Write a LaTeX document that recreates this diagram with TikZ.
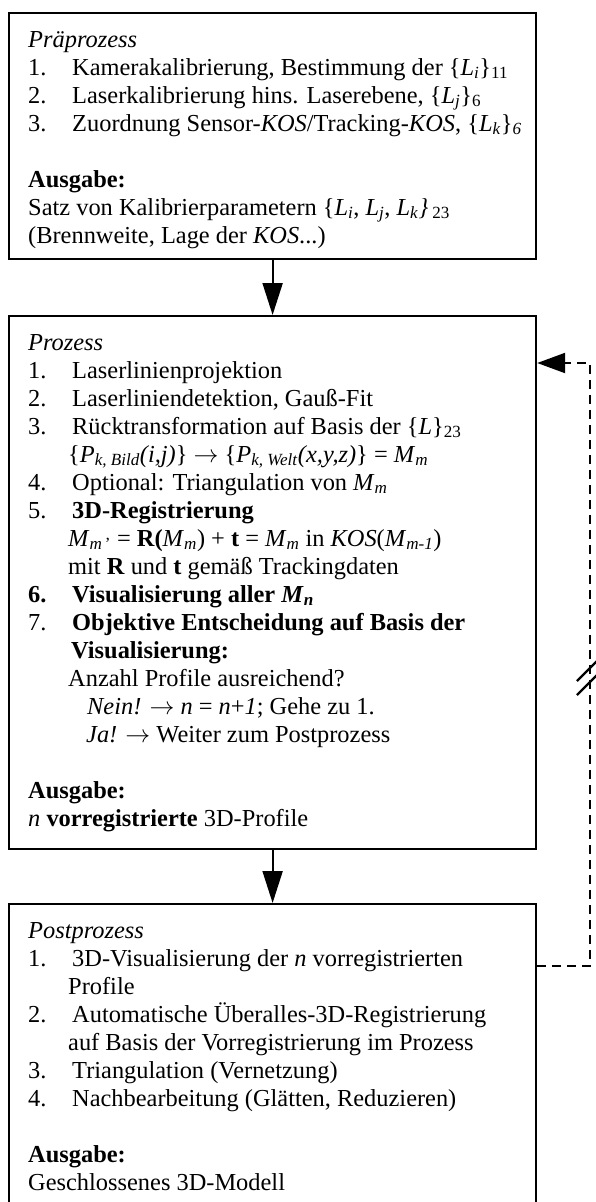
\documentclass[tikz,border=0pt]{standalone}
\usepackage{fontspec}
\setmainfont{Liberation Serif}
\usetikzlibrary{arrows.meta}
% list number in a fixed-width slot
\newcommand\nr[1]{\makebox[44pt][l]{#1}}
% italic symbol with italic index
\newcommand\Li[1]{\textit{L}\textsubscript{\textit{#1}}}
\newcommand\Mi[1]{\textit{M}\textsubscript{\textit{#1}}}
% long arrow in running text
\newcommand\ra{$\rightarrow$}

\begin{document}
\begin{tikzpicture}[x=1pt,y=-1pt,
  box/.style={draw, line width=2.2pt, anchor=north west, inner sep=0pt, minimum width=527pt},
  ln/.style={anchor=base west, inner sep=0pt, font=\fontsize{24.4}{28}\selectfont},
  flow/.style={line width=2pt, -{Triangle[length=32pt,width=20pt]}},
  back/.style={line width=2.2pt, dash pattern=on 9pt off 6pt},
  brk/.style={line width=2.4pt},
]
\useasboundingbox (0,0) rectangle (595,1202);

% the three stage boxes
\node[box, minimum height=246pt] (pre)  at (8,12)  {};
\node[box, minimum height=533pt] (proc) at (8,315) {};
\node[box, minimum height=320pt] (post) at (8,903) {};

% pre-processing
\node[ln] (a0) at (28,47)  {\textit{Präprozess}};
\node[ln] (a1) at (28,75)  {\nr{1.}Kamerakalibrierung, Bestimmung der \{\Li{i}\}\textsubscript{11}};
\node[ln] (a2) at (28,103) {\nr{2.}Laserkalibrierung hins. Laserebene, \{\Li{j}\}\textsubscript{6}};
\node[ln] (a3) at (28,131) {\nr{3.}Zuordnung Sensor-\textit{KOS}/Tracking-\textit{KOS}, \{\Li{k}\}\textsubscript{\textit{6}}};
\node[ln] (a4) at (28,187) {\textbf{Ausgabe:}};
\node[ln] (a5) at (28,215) {Satz von Kalibrierparametern \{\Li{i}, \Li{j}, \Li{k}\textit{\}}\,\textsubscript{23}};
\node[ln] (a6) at (28,243) {(Brennweite, Lage der \textit{KOS}...)};

% processing
\node[ln] (b0)  at (28,350) {\textit{Prozess}};
\node[ln] (b1)  at (28,378) {\nr{1.}Laserlinienprojektion};
\node[ln] (b2)  at (28,406) {\nr{2.}Laserliniendetektion, Gauß-Fit};
\node[ln] (b3)  at (28,434) {\nr{3.}Rücktransformation auf Basis der \{\textit{L}\}\textsubscript{23}};
\node[ln] (b4)  at (68,462) {\{\textit{P}\textsubscript{\textit{k, Bild}}\textit{(i,j)}\} \ra{} \{\textit{P}\textsubscript{\textit{k, Welt}}\textit{(x,y,z)}\} = \Mi{m}};
\node[ln] (b5)  at (28,490) {\nr{4.}Optional: Triangulation von \Mi{m}};
\node[ln] (b6)  at (28,518) {\nr{5.}\textbf{3D-Registrierung}};
\node[ln] (b7)  at (68,546) {\textit{M}\textsubscript{\textit{m}\,'} = \textbf{R(}\Mi{m}) + \textbf{t} = \Mi{m} in \textit{KOS}(\textit{M}\textsubscript{\textit{m-1}})};
\node[ln] (b8)  at (68,574) {mit \textbf{R} und \textbf{t} gemäß Trackingdaten};
\node[ln] (b9)  at (28,602) {\textbf{\nr{6.}Visualisierung aller \textit{M}\textsubscript{\textit{n}}}};
\node[ln] (b10) at (28,630) {\nr{7.}\textbf{Objektive Entscheidung auf Basis der}};
\node[ln] (b11) at (71,658) {\textbf{Visualisierung:}};
\node[ln] (b12) at (68,686) {Anzahl Profile ausreichend?};
\node[ln] (b13) at (87,714) {\textit{Nein!} \ra{} \textit{n} = \textit{n}+\textit{1}; Gehe zu 1.};
\node[ln] (b14) at (86,742) {\textit{Ja!} \ra{} Weiter zum Postprozess};
\node[ln] (b15) at (28,798) {\textbf{Ausgabe:}};
\node[ln] (b16) at (28,826) {\textit{n} \textbf{vorregistrierte} 3D-Profile};

% post-processing
\node[ln] (c0) at (28,938)  {\textit{Postprozess}};
\node[ln] (c1) at (28,966)  {\nr{1.}3D-Visualisierung der \textit{n} vorregistrierten};
\node[ln] (c2) at (68,994)  {Profile};
\node[ln] (c3) at (28,1022) {\nr{2.}Automatische Überalles-3D-Registrierung};
\node[ln] (c4) at (68,1050) {auf Basis der Vorregistrierung im Prozess};
\node[ln] (c5) at (28,1078) {\nr{3.}Triangulation (Vernetzung)};
\node[ln] (c6) at (28,1106) {\nr{4.}Nachbearbeitung (Glätten, Reduzieren)};
\node[ln] (c7) at (28,1162) {\textbf{Ausgabe:}};
\node[ln] (c8) at (28,1190) {Geschlossenes 3D-Modell};

% main flow
\draw[flow] (pre.south) -- (proc.north);
\draw[flow] (proc.south) -- (post.north);

% feedback loop back into the process stage
\coordinate (fbLow)  at (590,966);
\coordinate (fbHigh) at (590,363);
\draw[back, -{Triangle[length=28pt,width=20pt]}]
  (post.east |- fbLow) -- (fbLow) -- (fbHigh) -- (proc.east |- fbHigh);

% break marks on the return line
\coordinate (brk1) at (590,668);
\coordinate (brk2) at (590,682);
\draw[brk] ([shift={(-13,13)}]brk1) -- ([shift={(13,-13)}]brk1);
\draw[brk] ([shift={(-13,13)}]brk2) -- ([shift={(13,-13)}]brk2);
\end{tikzpicture}
\end{document}
